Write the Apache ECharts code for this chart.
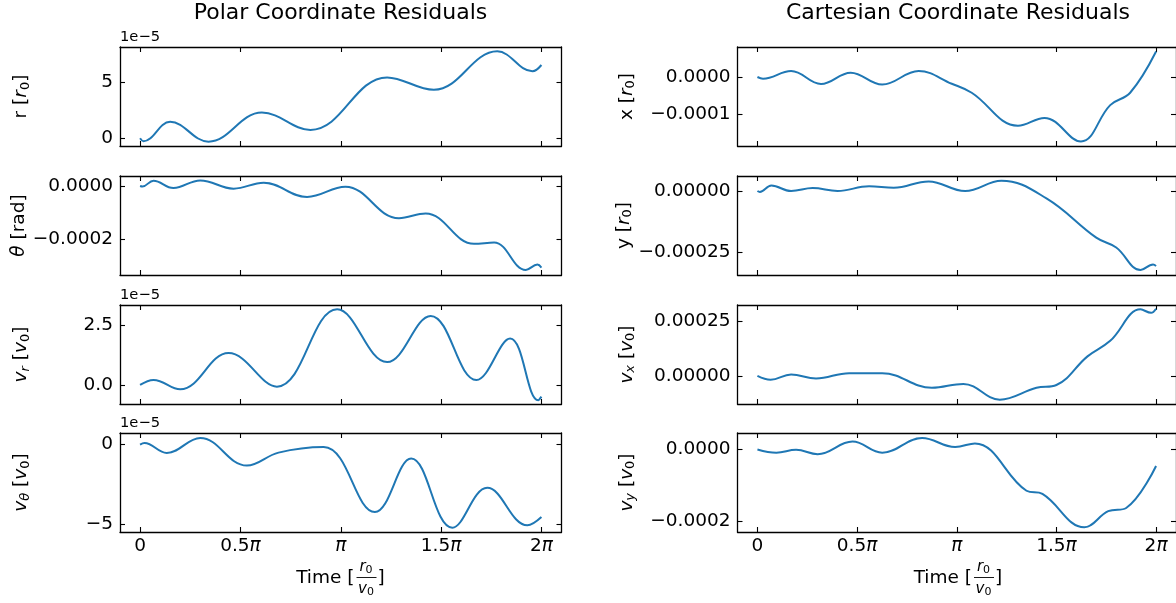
<!DOCTYPE html>
<html>
<head>
<meta charset="utf-8">
<script src="https://cdn.jsdelivr.net/npm/echarts/dist/echarts.min.js"></script>
<style>
html,body{margin:0;padding:0;background:#fff;}
#c{width:1176px;height:603px;}
</style>
</head>
<body>
<div id="c"></div>
<script>
// ---- Data (time in units of pi * r0/v0) ----
// Polar residuals: r, v_r, v_theta in units of 1e-5 ; theta in units of 1e-4 rad
const rT  = [0, 0.017, 0.15, 0.341, 0.607, 0.849, 1.231, 1.464, 1.78, 1.955, 2.0];
const rV  = [0, -0.27, 1.47, -0.3, 2.3, 0.75, 5.45, 4.34, 7.78, 6.0, 6.56];

const thT = [0, 0.012, 0.067, 0.166, 0.3, 0.466, 0.616, 0.832, 1.023, 1.29, 1.423, 1.664, 1.764, 1.922, 1.98, 2.0];
const thV = [0, -0.02, 0.2, -0.075, 0.21, -0.1, 0.125, -0.41, -0.025, -1.21, -1.03, -2.17, -2.12, -3.15, -2.95, -3.06];

const vrT = [0, 0.067, 0.2, 0.441, 0.682, 0.982, 1.231, 1.448, 1.676, 1.844, 1.984, 2.0];
const vrV = [0, 0.21, -0.18, 1.34, -0.07, 3.18, 0.96, 2.9, 0.21, 1.95, -0.64, -0.49];

const vtT = [0, 0.022, 0.133, 0.3, 0.532, 0.69, 0.915, 1.17, 1.351, 1.556, 1.73, 1.93, 2.0];
const vtV = [0, 0.1, -0.52, 0.42, -1.31, -0.5, -0.15, -4.23, -0.875, -5.21, -2.71, -5.06, -4.54];

// Cartesian residuals: all in units of 1e-4
const xT  = [0, 0.028, 0.169, 0.319, 0.468, 0.626, 0.809, 0.975, 1.075, 1.307, 1.44, 1.623, 1.77, 1.87, 2.0];
const xV  = [0, -0.044, 0.16, -0.186, 0.115, -0.2, 0.16, -0.18, -0.42, -1.3, -1.09, -1.72, -0.75, -0.42, 0.68];

const yT  = [0, 0.012, 0.07, 0.169, 0.277, 0.402, 0.56, 0.684, 0.859, 1.042, 1.224, 1.45, 1.7, 1.8, 1.922, 1.985, 2.0];
const yV  = [0, -0.04, 0.22, 0, 0.12, 0, 0.19, 0.13, 0.39, 0, 0.42, -0.3, -1.9, -2.3, -3.22, -2.99, -3.05];

const vxT = [0, 0.066, 0.169, 0.294, 0.46, 0.626, 0.875, 1.033, 1.216, 1.4, 1.5, 1.656, 1.77, 1.922, 1.975, 2.0];
const vxV = [0, -0.18, 0.06, -0.12, 0.12, 0.12, -0.55, -0.37, -1.09, -0.55, -0.42, 0.89, 1.6, 3.04, 2.88, 3.07];

const vyT = [0, 0.095, 0.194, 0.302, 0.477, 0.626, 0.826, 0.992, 1.091, 1.35, 1.43, 1.64, 1.76, 1.85, 2.0];
const vyV = [0, -0.09, -0.01, -0.13, 0.22, -0.09, 0.32, 0.07, 0.17, -1.15, -1.24, -2.17, -1.72, -1.63, -0.46];

// Tick values / labels
const xTicks = [0, 0.5, 1, 1.5, 2];
const xTickLabels = ['0', '0.5{i|π}', '{i|π}', '1.5{i|π}', '2{i|π}'];

const rTicks = [0, 5],       rTickLabels = ['0', '5'];
const thTicks = [0, -2],     thTickLabels = ['0.0000', '−0.0002'];
const vrTicks = [0, 2.5],    vrTickLabels = ['0.0', '2.5'];
const vtTicks = [0, -5],     vtTickLabels = ['0', '−5'];
const xTicksY = [0, -1],     xTickLabelsY = ['0.0000', '−0.0001'];
const yTicksY = [0, -2.5],   yTickLabelsY = ['0.00000', '−0.00025'];
const vxTicks = [0, 2.5],    vxTickLabels = ['0.00000', '0.00025'];
const vyTicks = [0, -2],     vyTickLabels = ['0.0000', '−0.0002'];

const titles = ['Polar Coordinate Residuals', 'Cartesian Coordinate Residuals'];

// ---- Layout ----
const F = 'DejaVu Sans';
const FS = 18.5;
const colLeft = [120, 737.5];
const colW = 441.5;
const rowTop = [47, 176, 305, 433];
const rowH = 99;

const panels = [
  {col:0,row:0,t:rT, v:rV, min:-0.69,max:8.17,ticks:rTicks,labels:rTickLabels,
   name:'{n|r [}{i|r}{s|0}{n|]}', offset:'1e−5'},
  {col:0,row:1,t:thT,v:thV,min:-3.34,max:0.375,ticks:thTicks,labels:thTickLabels,
   name:'{i|θ}{n| [rad]}'},
  {col:0,row:2,t:vrT,v:vrV,min:-0.8,max:3.36,ticks:vrTicks,labels:vrTickLabels,
   name:'{i|v}{si|r}{n| [}{i|v}{s|0}{n|]}', offset:'1e−5'},
  {col:0,row:3,t:vtT,v:vtV,min:-5.48,max:0.73,ticks:vtTicks,labels:vtTickLabels,
   name:'{i|v}{si|θ}{n| [}{i|v}{s|0}{n|]}', offset:'1e−5'},
  {col:1,row:0,t:xT, v:xV, min:-1.84,max:0.80,ticks:xTicksY,labels:xTickLabelsY,
   name:'{n|x [}{i|r}{s|0}{n|]}'},
  {col:1,row:1,t:yT, v:yV, min:-3.42,max:0.61,ticks:yTicksY,labels:yTickLabelsY,
   name:'{n|y [}{i|r}{s|0}{n|]}'},
  {col:1,row:2,t:vxT,v:vxV,min:-1.29,max:3.24,ticks:vxTicks,labels:vxTickLabels,
   name:'{i|v}{si|x}{n| [}{i|v}{s|0}{n|]}'},
  {col:1,row:3,t:vyT,v:vyV,min:-2.3,max:0.46,ticks:vyTicks,labels:vyTickLabels,
   name:'{i|v}{si|y}{n| [}{i|v}{s|0}{n|]}'}
];

const nameRich = {
  n: {fontSize:FS, fontFamily:F, color:'#000'},
  i: {fontSize:FS, fontFamily:F, fontStyle:'italic', color:'#000'},
  s: {fontSize:13, fontFamily:F, color:'#000', padding:[8,0,0,0]},
  si:{fontSize:13, fontFamily:F, fontStyle:'italic', color:'#000', padding:[8,0,0,0]}
};

const spine = {show:true, onZero:false, lineStyle:{color:'#000', width:1.3}};
const tickStyle = {color:'#000', width:1.1};

const grid = [], xAxis = [], yAxis = [], series = [];
panels.forEach((p, k) => {
  grid.push({left: colLeft[p.col], top: rowTop[p.row], width: colW, height: rowH, containLabel:false});
  const bottomRow = p.row === 3;
  xAxis.push({type:'value', gridIndex:k, position:'bottom', min:-0.1, max:2.1,
    axisLine:spine,
    axisTick:{show:true, inside:true, length:5, lineStyle:tickStyle, customValues:xTicks},
    axisLabel:{show:bottomRow, customValues:xTicks, margin:5, fontSize:FS, fontFamily:F, color:'#000',
      formatter:(val)=>{const i = xTicks.findIndex(q=>Math.abs(q-val)<1e-9); return i>=0? xTickLabels[i] : '';},
      rich:{i:{fontSize:FS, fontFamily:F, fontStyle:'italic', color:'#000'}}},
    splitLine:{show:false}});
  xAxis.push({type:'value', gridIndex:k, position:'top', min:-0.1, max:2.1,
    axisLine:spine,
    axisTick:{show:true, inside:true, length:5, lineStyle:tickStyle, customValues:xTicks},
    axisLabel:{show:false}, splitLine:{show:false}});
  yAxis.push({type:'value', gridIndex:k, position:'left', min:p.min, max:p.max,
    axisLine:spine,
    axisTick:{show:true, inside:true, length:5, lineStyle:tickStyle, customValues:p.ticks},
    axisLabel:{show:true, customValues:p.ticks, margin:7, fontSize:FS, fontFamily:F, color:'#000',
      formatter:(val)=>{const i = p.ticks.findIndex(q=>Math.abs(q-val)<1e-9); return i>=0? p.labels[i] : '';}},
    splitLine:{show:false},
    name:p.name, nameLocation:'middle', nameRotate:90, nameGap: p.col===0 ? 88 : 100,
    nameTextStyle:{fontSize:FS, fontFamily:F, color:'#000', rich:nameRich}});
  yAxis.push({type:'value', gridIndex:k, position:'right', min:p.min, max:p.max,
    axisLine:spine,
    axisTick:{show:true, inside:true, length:5, lineStyle:tickStyle, customValues:p.ticks},
    axisLabel:{show:false}, splitLine:{show:false}});
  series.push({type:'line', xAxisIndex:2*k, yAxisIndex:2*k,
    data:p.t.map((t,i)=>[t, p.v[i]]),
    showSymbol:false, smooth:0.4, lineStyle:{color:'#1f77b4', width:2}, itemStyle:{color:'#1f77b4'},
    silent:true, animation:false});
});

// ---- Texts: titles, offsets, x-axis labels with fraction ----
const fracRich = {
  i:{fontSize:15, fontFamily:F, fontStyle:'italic', fill:'#000'},
  s:{fontSize:11, fontFamily:F, fill:'#000', padding:[6,0,0,0]}
};
const graphic = [];
[0,1].forEach(c => {
  const cx = colLeft[c] + 220.5;
  graphic.push({type:'text', x:cx, y:13, style:{text:titles[c], fontSize:22, fontFamily:F, fill:'#000', align:'center', verticalAlign:'middle'}});
  graphic.push({type:'text', x:cx+14, y:578, style:{text:'Time [', fontSize:FS, fontFamily:F, fill:'#000', align:'right', verticalAlign:'middle'}});
  graphic.push({type:'text', x:cx+25.5, y:567, style:{text:'{i|r}{s|0}', fill:'#000', align:'center', verticalAlign:'middle', rich:fracRich}});
  graphic.push({type:'line', shape:{x1:cx+16, y1:577.5, x2:cx+36, y2:577.5}, style:{stroke:'#000', lineWidth:0.9}});
  graphic.push({type:'text', x:cx+25.5, y:589, style:{text:'{i|v}{s|0}', fill:'#000', align:'center', verticalAlign:'middle', rich:fracRich}});
  graphic.push({type:'text', x:cx+37, y:578, style:{text:']', fontSize:FS, fontFamily:F, fill:'#000', align:'left', verticalAlign:'middle'}});
});
panels.forEach(p => {
  if (p.offset) {
    graphic.push({type:'text', x:colLeft[p.col], y:rowTop[p.row]-10, style:{text:p.offset, fontSize:14.7, fontFamily:F, fill:'#000', align:'left', verticalAlign:'middle'}});
  }
});

const chart = echarts.init(document.getElementById('c'), null, {renderer:'canvas'});
chart.setOption({
  backgroundColor:'#fff',
  animation:false,
  grid, xAxis, yAxis, series, graphic
});
</script>
</body>
</html>
